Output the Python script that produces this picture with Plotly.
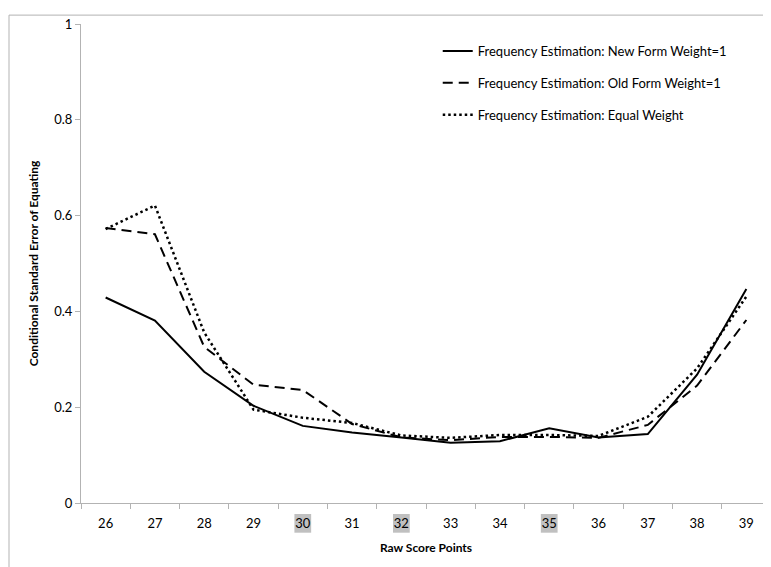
import plotly.graph_objects as go

categories = ["26", "27", "28", "29", "30", "31", "32", "33", "34", "35", "36", "37", "38", "39"]
new_form = [0.429, 0.381, 0.274, 0.203, 0.161, 0.147, 0.137, 0.126, 0.129, 0.156, 0.137, 0.144, 0.268, 0.447]
old_form = [0.574, 0.561, 0.326, 0.247, 0.236, 0.165, 0.137, 0.131, 0.138, 0.138, 0.136, 0.163, 0.245, 0.382]
equal_w = [0.572, 0.621, 0.356, 0.195, 0.178, 0.167, 0.141, 0.136, 0.142, 0.142, 0.140, 0.180, 0.281, 0.431]
series_names = ["Frequency Estimation: New Form Weight=1",
                "Frequency Estimation: Old Form Weight=1",
                "Frequency Estimation: Equal Weight"]
highlighted = ["30", "32", "35"]
y_ticks = [0, 0.2, 0.4, 0.6, 0.8, 1]

FONT = "Lato, 'Open Sans', sans-serif"
GRAY = "#b3b3b3"

fig = go.Figure()
styles = [dict(color="black", width=2, dash="solid"),
          dict(color="black", width=2, dash="10px,6px"),
          dict(color="black", width=2.5, dash="2.5px,3px")]
for name, vals, st, g in zip(series_names, [new_form, old_form, equal_w], styles, ["a", "b", "c"]):
    fig.add_trace(go.Scatter(x=categories, y=vals, mode="lines", name=name,
                             line=st, legendgroup=g))

shapes = []
for c in highlighted:
    i = categories.index(c)
    shapes.append(dict(type="rect", xref="x", yref="paper", x0=i - 0.17, x1=i + 0.17,
                       y0=-0.062, y1=-0.023, fillcolor="#c0c0c0", line=dict(width=0),
                       layer="below"))
# outer chart border (cropped chart area)
shapes.append(dict(type="rect", xref="paper", yref="paper",
                   x0=(1 - 73) / 690, x1=1.2, y0=-0.3, y1=1 + 9 / 485,
                   line=dict(color=GRAY, width=1), fillcolor="rgba(0,0,0,0)", layer="below"))

fig.update_layout(
    width=771, height=559,
    margin=dict(l=73, r=8, t=10, b=64),
    paper_bgcolor="white", plot_bgcolor="white",
    font=dict(family=FONT, size=13, color="black"),
    showlegend=True,
    legend=dict(x=0.517, y=0.975, xanchor="left", yanchor="top",
                font=dict(family=FONT, size=13, color="black"),
                bgcolor="rgba(0,0,0,0)", tracegroupgap=12, itemwidth=30),
    shapes=shapes,
    xaxis=dict(type="category", categoryorder="array", categoryarray=categories,
               range=[-0.5, len(categories) - 0.5],
               showline=True, linecolor=GRAY, linewidth=1,
               ticks="outside", tickson="boundaries", ticklen=5, tickcolor=GRAY,
               showgrid=False, zeroline=False, ticklabelstandoff=8,
               tickfont=dict(family=FONT, size=13, color="black"),
               title=dict(text="<b>Raw Score Points</b>", standoff=14,
                          font=dict(family=FONT, size=12, color="black"))),
    yaxis=dict(range=[0, 1], tickvals=y_ticks, ticktext=["0", "0.2", "0.4", "0.6", "0.8", "1"],
               showline=True, linecolor=GRAY, linewidth=1,
               ticks="outside", ticklen=5, tickcolor=GRAY,
               showgrid=False, zeroline=False,
               tickfont=dict(family=FONT, size=13, color="black"),
               title=dict(text="<b>Conditional Standard Error of Equating</b>", standoff=13,
                          font=dict(family=FONT, size=12, color="black"))),
)

fig.write_html("out.html")
